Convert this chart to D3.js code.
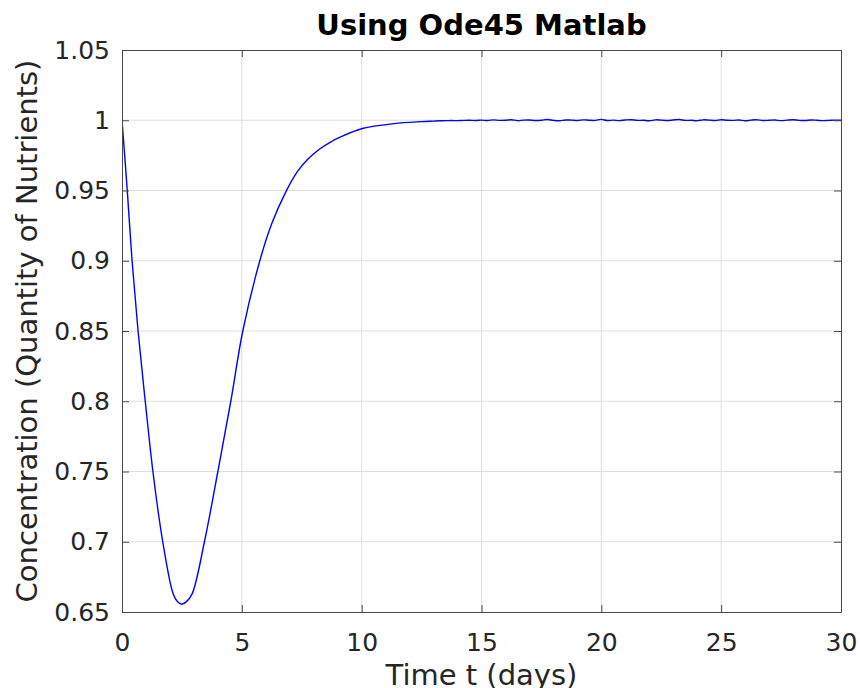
<!DOCTYPE html>
<html>
<head>
<meta charset="utf-8">
<script src="https://cdn.jsdelivr.net/npm/d3@7"></script>
<style>
  html, body { margin: 0; padding: 0; background: #fff; }
  svg { display: block; font-family: "DejaVu Sans", sans-serif; }
</style>
</head>
<body>
<svg id="chart" width="860" height="688"></svg>
<script>
// ---- data ----
const titleText = "Using Ode45 Matlab";
const xLabelText = "Time t (days)";
const yLabelText = "Concentration (Quantity of Nutrients)";

const xTicks = [0, 5, 10, 15, 20, 25, 30];
const xTickLabels = ["0", "5", "10", "15", "20", "25", "30"];
const yTicks = [0.65, 0.7, 0.75, 0.8, 0.85, 0.9, 0.95, 1, 1.05];
const yTickLabels = ["0.65", "0.7", "0.75", "0.8", "0.85", "0.9", "0.95", "1", "1.05"];

// main transient (t in days, concentration)
const curveT = [0, 0.22, 0.42, 0.67, 0.97, 1.29, 1.70, 2.13, 2.31, 2.49, 2.69, 2.93, 3.44, 4.00, 4.54, 5.04, 5.75, 6.25, 6.82, 7.31, 7.75, 8.22, 8.70, 9.12, 10.03, 11.35, 12.5, 13.0];
const curveV = [1.000, 0.950, 0.900, 0.850, 0.800, 0.750, 0.700, 0.6631, 0.6574, 0.6555, 0.6574, 0.6631, 0.700, 0.750, 0.800, 0.850, 0.900, 0.9265, 0.9485, 0.9632, 0.9722, 0.9792, 0.9845, 0.9881, 0.9941, 0.9976, 0.9990, 0.9994];

// steady-state tail, sampled every 0.25 day from t = 13.25
const tailStart = 13.25;
const tailStep = 0.25;
const tailV = [
  0.9996, 0.9997, 0.9998, 0.9997, 0.9999, 1.0000, 0.9998,
  1.0001, 0.9998, 1.0003, 0.9999, 1.0000, 1.0004, 0.9997, 1.0001, 1.0002, 0.9998,
  1.0000, 1.0005, 0.9999, 0.9996, 1.0002, 1.0001, 0.9998, 1.0003, 1.0000, 0.9999,
  1.0006, 0.9998, 1.0001, 0.9997, 1.0002, 1.0004, 0.9999, 1.0000, 0.9996, 1.0003,
  1.0001, 0.9998, 1.0002, 1.0005, 0.9999, 1.0000, 0.9997, 1.0003, 1.0001, 0.9998,
  1.0004, 1.0000, 0.9999, 1.0002, 0.9996, 1.0001, 1.0003, 0.9998, 1.0000, 1.0002,
  0.9997, 1.0001, 1.0004, 0.9999, 0.9998, 1.0002, 1.0000, 0.9997, 0.9999, 1.0001,
  1.0000
];

// ---- build points ----
const pts = curveT.map((t, i) => [t, curveV[i]]);
tailV.forEach((v, i) => pts.push([tailStart + i * tailStep, v]));

// ---- layout ----
const svg = d3.select("#chart");
const L = 122, R = 841, T = 50, B = 612;
const W = R - L, H = B - T;

const x = d3.scaleLinear().domain([0, 30]).range([L, R]);
const y = d3.scaleLinear().domain([0.65, 1.05]).range([B, T]);

const axisColor = "#4a4a4a";
const textColor = "#262626";
const gridColor = "#dfdfdf";

// grid
const g = svg.append("g");
g.selectAll(".gx").data(xTicks.slice(1, -1)).enter().append("line")
  .attr("x1", d => x(d)).attr("x2", d => x(d))
  .attr("y1", T).attr("y2", B)
  .attr("stroke", gridColor).attr("stroke-width", 1);
g.selectAll(".gy").data(yTicks.slice(1, -1)).enter().append("line")
  .attr("y1", d => y(d)).attr("y2", d => y(d))
  .attr("x1", L).attr("x2", R)
  .attr("stroke", gridColor).attr("stroke-width", 1);

// line
svg.append("clipPath").attr("id", "clip").append("rect")
  .attr("x", L).attr("y", T).attr("width", W).attr("height", H);

const line = d3.line().x(d => x(d[0])).y(d => y(d[1])).curve(d3.curveCatmullRom.alpha(0.5));
svg.append("path").datum(pts)
  .attr("clip-path", "url(#clip)")
  .attr("fill", "none").attr("stroke", "#0000ff").attr("stroke-width", 1.4)
  .attr("d", line);

// axes
function styleAxis(sel) {
  sel.select(".domain").attr("stroke", axisColor).attr("stroke-width", 1);
  sel.selectAll(".tick line").attr("stroke", axisColor).attr("stroke-width", 1);
  sel.selectAll("text").attr("fill", textColor)
    .style("font-family", "DejaVu Sans, sans-serif").style("font-size", "25px");
}

const xAxisB = d3.axisBottom(x).tickValues(xTicks)
  .tickFormat((d, i) => xTickLabels[i]).tickSizeInner(-7).tickSizeOuter(0).tickPadding(21);
svg.append("g").attr("transform", `translate(0,${B})`).call(xAxisB).call(styleAxis);

const xAxisT = d3.axisTop(x).tickValues(xTicks).tickFormat("").tickSizeInner(-7).tickSizeOuter(0);
svg.append("g").attr("transform", `translate(0,${T})`).call(xAxisT).call(styleAxis);

const yAxisL = d3.axisLeft(y).tickValues(yTicks)
  .tickFormat((d, i) => yTickLabels[i]).tickSizeInner(-7).tickSizeOuter(0).tickPadding(12);
svg.append("g").attr("transform", `translate(${L},0)`).call(yAxisL).call(styleAxis);

const yAxisR = d3.axisRight(y).tickValues(yTicks).tickFormat("").tickSizeInner(-7).tickSizeOuter(0);
svg.append("g").attr("transform", `translate(${R},0)`).call(yAxisR).call(styleAxis);

// title & labels
svg.append("text")
  .attr("x", (L + R) / 2).attr("y", 35)
  .attr("text-anchor", "middle")
  .style("font-family", "DejaVu Sans, sans-serif")
  .style("font-weight", "bold").style("font-size", "29px")
  .attr("fill", "#000")
  .text(titleText);

svg.append("text")
  .attr("x", (L + R) / 2).attr("y", 685)
  .attr("text-anchor", "middle")
  .style("font-family", "DejaVu Sans, sans-serif").style("font-size", "29px")
  .attr("fill", textColor)
  .text(xLabelText);

svg.append("text")
  .attr("transform", `translate(37,${(T + B) / 2}) rotate(-90)`)
  .attr("text-anchor", "middle")
  .style("font-family", "DejaVu Sans, sans-serif").style("font-size", "29px")
  .attr("fill", textColor)
  .text(yLabelText);
</script>
</body>
</html>
